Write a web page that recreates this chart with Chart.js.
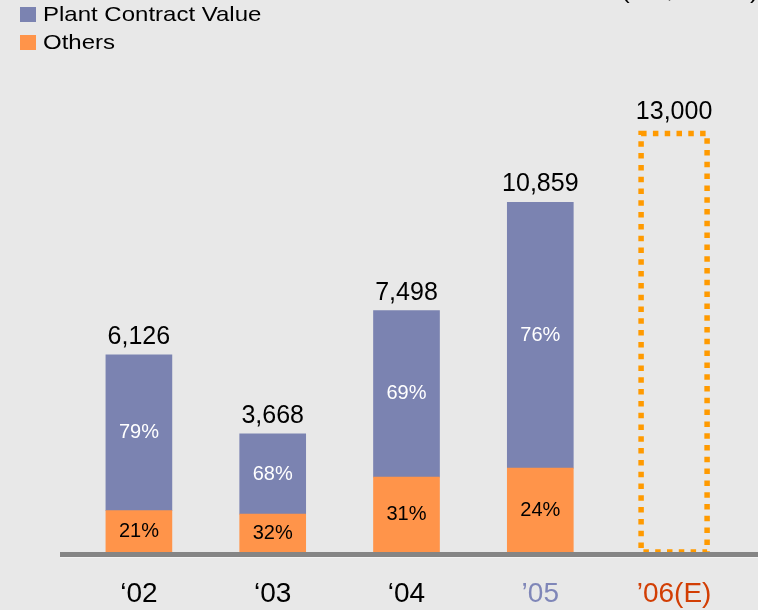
<!DOCTYPE html>
<html><head><meta charset="utf-8">
<script src="https://cdn.jsdelivr.net/npm/chart.js@4"></script>
<style>html,body{margin:0;padding:0;background:#E8E8E8;}canvas{display:block;}</style>
</head><body>
<canvas id="c" width="758" height="610"></canvas>
<script>
// ---- data ----
const categories = ['\u201802', '\u201803', '\u201804', '\u201905', '\u201906(E)'];
const totals = [6126, 3668, 7498, 10859, 13000];
const plantValues = [4840, 2494, 5174, 8253, null];
const othersValues = [1286, 1174, 2324, 2606, null];
const estimateValues = [null, null, null, null, 13000];
const plantPct = ['79%', '68%', '69%', '76%', null];
const othersPct = ['21%', '32%', '31%', '24%', null];
const tickColors = ['#000000', '#000000', '#000000', '#7F86B8', '#D23E04'];
const seriesNames = ['Plant Contract Value', 'Others'];
const unitLabel = '(US$ million)';

const FONT = "'Liberation Sans', Arial, sans-serif";
const PLANT = '#7B83B1';
const OTHERS = '#FF944A';
const EST = '#FF9A00';

const overlay = {
  id: 'overlay',
  afterDatasetsDraw(chart) {
    const ctx = chart.ctx;
    const area = chart.chartArea;
    const mOthers = chart.getDatasetMeta(0);
    const mPlant = chart.getDatasetMeta(1);
    const mEst = chart.getDatasetMeta(2);
    ctx.save();
    // dotted estimate box
    mEst.data.forEach((el, i) => {
      if (estimateValues[i] == null) return;
      const w = el.width;
      ctx.strokeStyle = EST;
      ctx.lineWidth = 5.5;
      ctx.setLineDash([5.5, 6.3]);
      ctx.strokeRect(el.x - w / 2, el.y, w, el.base - el.y);
      ctx.setLineDash([]);
    });
    // baseline
    ctx.fillStyle = '#858585';
    ctx.fillRect(60, area.bottom, 758 - 60, 5);
    ctx.fillStyle = '#F2F2F2';
    ctx.fillRect(60, area.bottom + 5, 758 - 60, 1);
    // percent labels
    ctx.textAlign = 'center';
    ctx.textBaseline = 'middle';
    ctx.font = '20px ' + FONT;
    mPlant.data.forEach((el, i) => {
      if (plantPct[i] == null) return;
      ctx.fillStyle = '#FFFFFF';
      ctx.fillText(plantPct[i], el.x, (el.y + el.base) / 2);
    });
    mOthers.data.forEach((el, i) => {
      if (othersPct[i] == null) return;
      ctx.fillStyle = '#000000';
      ctx.fillText(othersPct[i], el.x, (el.y + el.base) / 2);
    });
    // totals
    ctx.textBaseline = 'alphabetic';
    ctx.font = '25px ' + FONT;
    ctx.fillStyle = '#000000';
    totals.forEach((t, i) => {
      const els = [mOthers.data[i], mPlant.data[i], mEst.data[i]];
      let top = Infinity, x = 0;
      els.forEach((el, k) => {
        const v = chart.data.datasets[k].data[i];
        if (v == null) return;
        if (el.y < top) { top = el.y; x = el.x; }
      });
      const extra = estimateValues[i] != null ? 3 : 0;
      ctx.fillText(t.toLocaleString('en-US'), x, top - 11 - extra);
    });
    ctx.restore();
  },
  afterDraw(chart) {
    const ctx = chart.ctx;
    ctx.save();
    ctx.font = '20px ' + FONT;
    ctx.textBaseline = 'middle';
    ctx.textAlign = 'left';
    const items = [
      { label: chart.data.datasets[1].label, color: chart.data.datasets[1].backgroundColor, y: 7 },
      { label: chart.data.datasets[0].label, color: chart.data.datasets[0].backgroundColor, y: 35 }
    ];
    items.forEach(it => {
      ctx.fillStyle = it.color;
      ctx.fillRect(20, it.y, 16, 15);
      ctx.save();
      ctx.translate(43, it.y + 8.5);
      ctx.scale(1.2, 1.02);
      ctx.fillStyle = '#000000';
      ctx.fillText(it.label, 0, 0);
      ctx.restore();
    });
    // unit label (cut off at top)
    ctx.save();
    ctx.textAlign = 'right';
    ctx.textBaseline = 'alphabetic';
    ctx.translate(758, -1);
    ctx.scale(1.19, 1);
    ctx.fillStyle = '#000000';
    ctx.fillText(unitLabel, 0, 0);
    ctx.restore();
    ctx.restore();
  }
};

new Chart(document.getElementById('c'), {
  type: 'bar',
  data: {
    labels: categories,
    datasets: [
      { label: seriesNames[1], data: othersValues, backgroundColor: OTHERS, stack: 's', barThickness: 66 },
      { label: seriesNames[0], data: plantValues, backgroundColor: PLANT, stack: 's', barThickness: 66 },
      { label: 'Estimate', data: estimateValues, backgroundColor: 'rgba(0,0,0,0)', stack: 's', barThickness: 66 }
    ]
  },
  options: {
    responsive: false,
    animation: false,
    layout: { padding: { left: 72, right: 17, top: 69, bottom: 0 } },
    plugins: { legend: { display: false }, tooltip: { enabled: false } },
    scales: {
      x: {
        stacked: true,
        grid: { display: false, drawTicks: false },
        border: { display: false },
        afterFit: (s) => { s.height = 58; },
        ticks: {
          padding: 25,
          font: { size: 28, family: FONT },
          color: (c) => tickColors[c.index]
        }
      },
      y: {
        stacked: true,
        display: false,
        min: 0,
        max: 15000
      }
    }
  },
  plugins: [overlay]
});
</script>
</body></html>
